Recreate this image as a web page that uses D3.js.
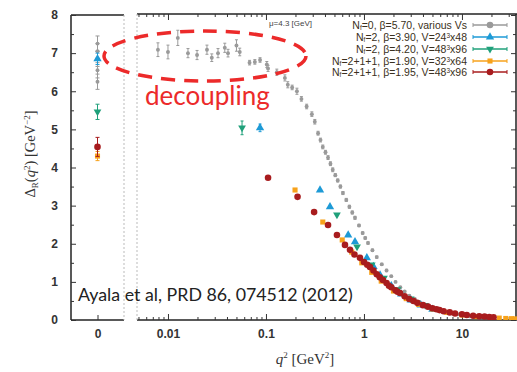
<!DOCTYPE html>
<html>
<head>
<meta charset="utf-8">
<script src="https://cdn.jsdelivr.net/npm/d3@7"></script>
<style>
  body { margin: 0; background: #fff; }
  svg { display: block; }
</style>
</head>
<body>
<div id="chart"></div>
<script>
// values: [q2, Delta, err]
var quenchedZero = [[7.25, 0.2], [7.05, 0.2], [6.85, 0.2], [6.55, 0.2], [6.25, 0.2]];
var quenched = [
  [0.0079, 7.09, 0.18], [0.0100, 7.03, 0.18], [0.0126, 7.40, 0.20], [0.0160, 7.00, 0.12],
  [0.0198, 6.95, 0.12], [0.0250, 7.09, 0.12], [0.0280, 6.88, 0.10], [0.0324, 7.00, 0.12],
  [0.0380, 7.14, 0.12], [0.0410, 7.00, 0.10], [0.0500, 7.20, 0.15], [0.0540, 7.03, 0.10],
  [0.0680, 6.75, 0.06], [0.0770, 6.77, 0.06], [0.0870, 6.82, 0.06], [0.1020, 6.70, 0.08],
  [0.1050, 6.60, 0.08], [0.1290, 6.50, 0.08], [0.1560, 6.35, 0.08], [0.1670, 6.17, 0.08],
  [0.1850, 6.10, 0.06], [0.2070, 6.00, 0.08], [0.2300, 5.80, 0.06], [0.2600, 5.60, 0.06],
  [0.2940, 5.40, 0.06], [0.3150, 5.20, 0.06], [0.3400, 4.90, 0.05], [0.3600, 4.72, 0.05],
  [0.3800, 4.54, 0.05], [0.4050, 4.40, 0.05], [0.4300, 4.26, 0.05], [0.4550, 4.10, 0.05],
  [0.4800, 3.94, 0.05], [0.5100, 3.80, 0.04], [0.5400, 3.66, 0.04], [0.5750, 3.50, 0.04],
  [0.6100, 3.33, 0.04], [0.6600, 3.15, 0.04], [0.7100, 2.97, 0.04], [0.7600, 2.82, 0.04],
  [0.8100, 2.68, 0.04], [0.8900, 2.48, 0.03], [0.9700, 2.28, 0.03], [1.0300, 2.15, 0.03],
  [1.1000, 2.02, 0.03], [1.2200, 1.83, 0.03], [1.3500, 1.65, 0.03], [1.5200, 1.46, 0.03],
  [1.7000, 1.30, 0.03], [1.9000, 1.15, 0.02], [2.1000, 1.00, 0.02], [2.3500, 0.86, 0.02],
  [2.6000, 0.75, 0.02], [2.9000, 0.64, 0.02], [3.3000, 0.55, 0.02], [3.7000, 0.47, 0.02],
  [4.2000, 0.40, 0.02], [4.8000, 0.34, 0.02], [5.3000, 0.30, 0.02], [6.2000, 0.24, 0.02],
  [7.0000, 0.20, 0.02], [8.0000, 0.17, 0.02], [9.0000, 0.15, 0.02], [10.500, 0.12, 0.02],
  [12.000, 0.10, 0.02], [14.000, 0.08, 0.02], [16.000, 0.07, 0.02]
];

var nf2aZero = [[6.85, 0.15]];
var nf2a = [
  [0.087, 5.04, 0.10], [0.356, 3.41, 0], [0.45, 2.97, 0], [0.69, 2.23, 0], [0.81, 2.05, 0],
  [1.07, 1.63, 0], [1.25, 1.40, 0], [1.46, 1.18, 0], [1.9, 0.90, 0], [2.4, 0.68, 0],
  [3.0, 0.52, 0], [3.8, 0.39, 0], [5.0, 0.28, 0]
];

var nf2bZero = [[5.46, 0.2]];
var nf2b = [
  [0.057, 5.04, 0.18], [0.53, 2.76, 0], [0.85, 1.92, 0], [1.2, 1.45, 0], [1.6, 1.10, 0],
  [2.2, 0.80, 0], [3.0, 0.56, 0], [4.2, 0.39, 0]
];

var nf4aZero = [[4.30, 0.12]];
var nf4a = [
  [0.198, 3.41, 0], [0.38, 2.57, 0], [0.60, 2.10, 0], [0.75, 1.78, 0], [0.95, 1.50, 0],
  [1.2, 1.25, 0], [1.5, 1.02, 0], [2.0, 0.76, 0], [2.7, 0.56, 0], [3.6, 0.41, 0],
  [5.0, 0.29, 0], [7.0, 0.20, 0], [10, 0.13, 0], [14, 0.09, 0], [20, 0.06, 0],
  [24, 0.05, 0], [28, 0.04, 0], [32, 0.035, 0], [35, 0.03, 0]
];

var nf4bZero = [[4.54, 0.25]];
var nf4b = [
  [0.105, 3.73, 0], [0.21, 3.23, 0], [0.31, 2.83, 0], [0.43, 2.49, 0], [0.53, 2.23, 0],
  [0.64, 1.97, 0], [0.72, 1.84, 0], [0.80, 1.72, 0], [0.91, 1.63, 0], [1.0, 1.52, 0],
  [1.08, 1.45, 0], [1.15, 1.39, 0], [1.25, 1.30, 0], [1.35, 1.20, 0], [1.45, 1.12, 0],
  [1.56, 1.05, 0], [1.7, 0.97, 0], [1.8, 0.90, 0], [1.9, 0.86, 0], [2.1, 0.78, 0],
  [2.2, 0.74, 0], [2.33, 0.71, 0], [2.6, 0.62, 0], [2.9, 0.55, 0], [3.2, 0.50, 0],
  [3.5, 0.45, 0], [4.0, 0.39, 0], [4.5, 0.35, 0], [5.0, 0.31, 0], [5.5, 0.28, 0],
  [5.9, 0.26, 0], [6.5, 0.23, 0], [7.5, 0.20, 0], [8.5, 0.17, 0], [10, 0.15, 0],
  [11.2, 0.13, 0], [13, 0.11, 0], [15, 0.10, 0], [17, 0.09, 0], [19, 0.08, 0], [21, 0.07, 0]
];

var legendLabels = [
  "N_f=0, β=5.70, various Vs",
  "N_f=2, β=3.90, V=24^3x48",
  "N_f=2, β=4.20, V=48^3x96",
  "N_f=2+1+1, β=1.90, V=32^3x64",
  "N_f=2+1+1, β=1.95, V=48^3x96"
];
var yTicks = [0, 1, 2, 3, 4, 5, 6, 7, 8];
var xTicks = [0.01, 0.1, 1, 10];

var series = [
  { zero: quenchedZero, pts: quenched, color: "#9a9a9a", shape: "dot" },
  { zero: nf2aZero, pts: nf2a, color: "#1d9ad6", shape: "up" },
  { zero: nf2bZero, pts: nf2b, color: "#1fa07a", shape: "down" },
  { zero: nf4aZero, pts: nf4a, color: "#f7a21b", shape: "square" },
  { zero: nf4bZero, pts: nf4b, color: "#a81c1e", shape: "circle" }
];

var width = 517, height = 372;
var svg = d3.select("#chart").append("svg")
  .attr("width", width).attr("height", height)
  .style("font-family", "'Liberation Sans', Arial, sans-serif");

var y = d3.scaleLinear().domain([0, 8]).range([320, 15]);
var x = d3.scaleLog().domain([0.00483, 35.6]).range([137, 516]);
var x0 = d3.scalePoint().domain(["0"]).range([71, 124]).padding(0.5);

function symbolPath(shape) {
  if (shape == "up") return d3.symbol().type(d3.symbolTriangle).size(30)();
  if (shape == "down") return d3.symbol().type(d3.symbolTriangle).size(26)();
  if (shape == "square") return d3.symbol().type(d3.symbolSquare).size(26)();
  if (shape == "circle") return d3.symbol().type(d3.symbolCircle).size(34)();
  return d3.symbol().type(d3.symbolCircle).size(12)();
}

svg.append("defs").append("clipPath").attr("id", "clipR")
  .append("rect").attr("x", 137).attr("y", 15).attr("width", 380).attr("height", 305);

// frames
var frame = svg.append("g").attr("stroke", "#222").attr("stroke-width", 1.5);
frame.append("line").attr("x1", 71).attr("x2", 124).attr("y1", 15).attr("y2", 15);
frame.append("line").attr("x1", 71).attr("x2", 124).attr("y1", 320).attr("y2", 320);
frame.append("line").attr("x1", 71).attr("x2", 71).attr("y1", 15).attr("y2", 320);
frame.append("line").attr("x1", 137).attr("x2", 517).attr("y1", 14).attr("y2", 14);
frame.append("line").attr("x1", 137).attr("x2", 517).attr("y1", 320).attr("y2", 320);
frame.append("line").attr("x1", 516).attr("x2", 516).attr("y1", 14).attr("y2", 320);
svg.append("line").attr("x1", 124).attr("x2", 124).attr("y1", 15).attr("y2", 320)
  .attr("stroke", "#bbb").attr("stroke-dasharray", "2,2");
svg.append("line").attr("x1", 137).attr("x2", 137).attr("y1", 14).attr("y2", 320)
  .attr("stroke", "#bbb").attr("stroke-dasharray", "2,2");

// y axis (left panel)
svg.append("g").attr("transform", "translate(71,0)")
  .call(d3.axisLeft(y).tickValues(yTicks).tickSize(-5).tickPadding(13).tickFormat(d3.format("d")));
svg.append("g").attr("transform", "translate(71,0)")
  .call(d3.axisLeft(y).tickValues(d3.range(0.5, 8, 1)).tickSize(-3).tickFormat(""));
svg.append("g").attr("transform", "translate(516,0)")
  .call(d3.axisRight(y).tickValues(yTicks).tickSize(-5).tickFormat(""));
svg.append("g").attr("transform", "translate(516,0)")
  .call(d3.axisRight(y).tickValues(d3.range(0.5, 8, 1)).tickSize(-3).tickFormat(""));

// x axes
svg.append("g").attr("transform", "translate(0,320)")
  .call(d3.axisBottom(x0).tickSize(-5).tickPadding(9));
var minors = [];
[0.001, 0.01, 0.1, 1, 10].forEach(function (d) {
  for (var k = 2; k < 10; k++) minors.push(d * k);
});
minors = minors.filter(function (d) { return d > 0.00483 && d < 35.6; });
svg.append("g").attr("transform", "translate(0,320)")
  .call(d3.axisBottom(x).tickValues(xTicks).tickSize(-6).tickPadding(9).tickFormat(function (d) { return d; }));
svg.append("g").attr("transform", "translate(0,320)")
  .call(d3.axisBottom(x).tickValues(minors).tickSize(-3).tickFormat(""));
svg.append("g").attr("transform", "translate(0,14)")
  .call(d3.axisTop(x).tickValues(xTicks).tickSize(-6).tickFormat(""));
svg.append("g").attr("transform", "translate(0,14)")
  .call(d3.axisTop(x).tickValues(minors).tickSize(-3).tickFormat(""));

svg.selectAll(".domain").remove();
svg.selectAll(".tick line").attr("stroke", "#333");
svg.selectAll(".tick text").attr("font-size", 12).attr("font-weight", "bold").attr("fill", "#333");

// q2 = 0 panel
series.forEach(function (s) {
  var g = svg.append("g");
  s.zero.forEach(function (d) {
    var cx = x0("0");
    g.append("line").attr("x1", cx).attr("x2", cx).attr("y1", y(d[0] - d[1])).attr("y2", y(d[0] + d[1]))
      .attr("stroke", s.color).attr("stroke-width", 1);
    g.append("line").attr("x1", cx - 2).attr("x2", cx + 2).attr("y1", y(d[0] - d[1])).attr("y2", y(d[0] - d[1])).attr("stroke", s.color);
    g.append("line").attr("x1", cx - 2).attr("x2", cx + 2).attr("y1", y(d[0] + d[1])).attr("y2", y(d[0] + d[1])).attr("stroke", s.color);
    g.append("path").attr("d", symbolPath(s.shape))
      .attr("transform", "translate(" + cx + "," + y(d[0]) + ")" + (s.shape == "down" ? " rotate(180)" : ""))
      .attr("fill", s.color);
  });
});

// log panel
var plot = svg.append("g").attr("clip-path", "url(#clipR)");
series.forEach(function (s) {
  var g = plot.append("g");
  s.pts.forEach(function (d) {
    var cx = x(d[0]);
    if (d[2] > 0) {
      g.append("line").attr("x1", cx).attr("x2", cx).attr("y1", y(d[1] - d[2])).attr("y2", y(d[1] + d[2]))
        .attr("stroke", s.color);
      g.append("line").attr("x1", cx - 1.5).attr("x2", cx + 1.5).attr("y1", y(d[1] - d[2])).attr("y2", y(d[1] - d[2])).attr("stroke", s.color);
      g.append("line").attr("x1", cx - 1.5).attr("x2", cx + 1.5).attr("y1", y(d[1] + d[2])).attr("y2", y(d[1] + d[2])).attr("stroke", s.color);
    }
    g.append("path").attr("d", symbolPath(s.shape))
      .attr("transform", "translate(" + cx + "," + y(d[1]) + ")" + (s.shape == "down" ? " rotate(180)" : ""))
      .attr("fill", s.color);
  });
});

// legend
function richText(sel, str) {
  var parts = str.split(/(_f|\^3)/);
  var back = 0;
  parts.forEach(function (p) {
    if (p == "_f") { sel.append("tspan").attr("font-size", 6.5).attr("dy", 1.5).text("f"); back = -1.5; }
    else if (p == "^3") { sel.append("tspan").attr("font-size", 6.5).attr("dy", -3).text("3"); back = 3; }
    else if (p.length) { sel.append("tspan").attr("dy", back).text(p); back = 0; }
  });
}
var legendY = [25, 37, 49, 61, 72];
legendLabels.forEach(function (lab, i) {
  var s = series[i];
  var t = svg.append("text").attr("x", 467).attr("y", legendY[i] + 3.5)
    .attr("text-anchor", "end").attr("font-size", 10.5).attr("fill", "#3a3020");
  richText(t, lab);
  svg.append("line").attr("x1", 473).attr("x2", 507).attr("y1", legendY[i]).attr("y2", legendY[i])
    .attr("stroke", s.color).attr("stroke-width", 1.3);
  [473, 507].forEach(function (ex) {
    svg.append("line").attr("x1", ex).attr("x2", ex).attr("y1", legendY[i] - 2).attr("y2", legendY[i] + 2)
      .attr("stroke", s.color);
  });
  svg.append("path").attr("d", s.shape == "dot" ? symbolPath("circle") : symbolPath(s.shape))
    .attr("transform", "translate(490," + legendY[i] + ")" + (s.shape == "down" ? " rotate(180)" : ""))
    .attr("fill", s.color);
});

svg.append("text").attr("x", 312).attr("y", 26).attr("text-anchor", "end")
  .attr("font-size", 8).attr("fill", "#444").text("μ=4.3 [GeV]");

// axis labels
var yl = svg.append("text").attr("transform", "translate(35,154) rotate(-90)")
  .attr("text-anchor", "middle").attr("font-family", "'Liberation Serif', 'DejaVu Serif', serif")
  .attr("font-size", 14.5).attr("fill", "#333");
yl.append("tspan").text("Δ");
yl.append("tspan").attr("font-size", 9).attr("dy", 3).text("R");
yl.append("tspan").attr("dy", -3).text("(");
yl.append("tspan").attr("font-style", "italic").text("q");
yl.append("tspan").attr("font-size", 9).attr("dy", -5).text("2");
yl.append("tspan").attr("dy", 5).text(") [GeV");
yl.append("tspan").attr("font-size", 9).attr("dy", -5).text("−2");
yl.append("tspan").attr("dy", 5).text("]");

var xl = svg.append("text").attr("x", 305).attr("y", 364)
  .attr("text-anchor", "middle").attr("font-family", "'Liberation Serif', 'DejaVu Serif', serif")
  .attr("font-size", 15).attr("fill", "#333");
xl.append("tspan").attr("font-style", "italic").text("q");
xl.append("tspan").attr("font-size", 9).attr("dy", -6).text("2");
xl.append("tspan").attr("dy", 6).text(" [GeV");
xl.append("tspan").attr("font-size", 9).attr("dy", -6).text("2");
xl.append("tspan").attr("dy", 6).text("]");

// annotations
svg.append("text").attr("x", 78).attr("y", 301).attr("font-family", "Lato, 'Open Sans', sans-serif")
  .attr("font-size", 17.8).attr("fill", "#222").text("Ayala et al, PRD 86, 074512 (2012)");

svg.append("ellipse").attr("cx", 205).attr("cy", 56).attr("rx", 101).attr("ry", 25)
  .attr("fill", "none").attr("stroke", "#ec2a2a").attr("stroke-width", 3.5)
  .attr("stroke-dasharray", "14,9");

svg.append("text").attr("x", 145).attr("y", 105).attr("font-family", "Lato, 'Open Sans', sans-serif")
  .attr("font-size", 26).attr("fill", "#ec2a2a").text("decoupling");
</script>
</body>
</html>
